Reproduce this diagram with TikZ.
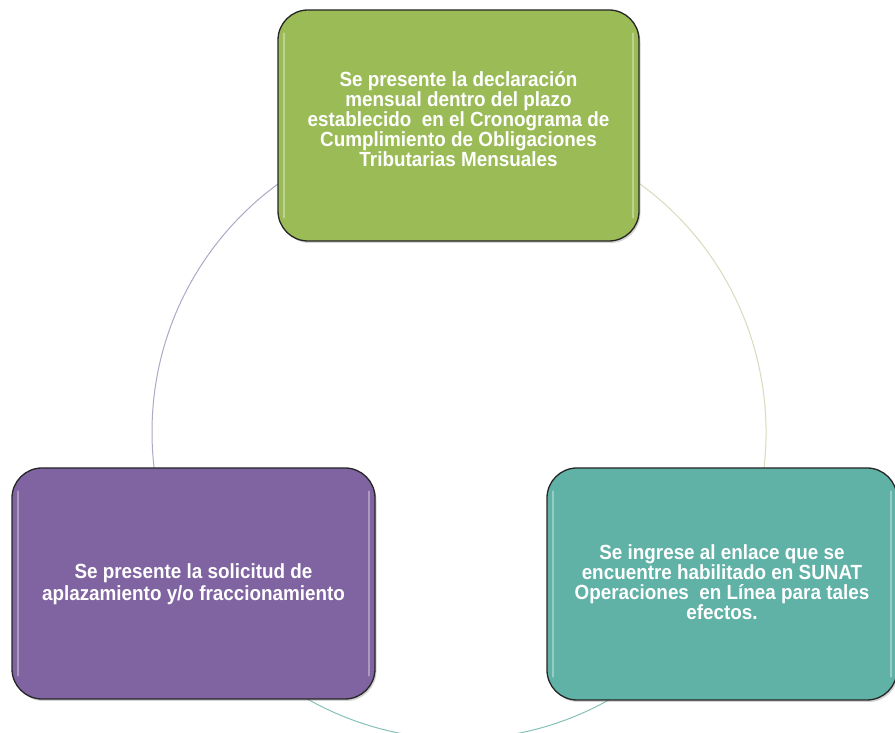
\documentclass[tikz,border=0pt]{standalone}
\usepackage{fontspec}
\setmainfont{Liberation Sans}
\newfontfamily\boxfont[FakeStretch=0.92]{Liberation Sans}
\usetikzlibrary{shadows,backgrounds}
\definecolor{boxgreen}{HTML}{9ABB56}
\definecolor{boxpurple}{HTML}{8063A1}
\definecolor{boxteal}{HTML}{60B1A6}
\definecolor{arcleft}{HTML}{ABA9C6}
\definecolor{arcright}{HTML}{D8DABB}
\definecolor{arcbottom}{HTML}{86C0B8}
\begin{document}
\begin{tikzpicture}[x=1pt,y=1pt,
  cyclebox/.style={draw=black!85, line width=1.3pt, rounded corners=30pt,
    inner sep=0pt, drop shadow={shadow xshift=1.5pt, shadow yshift=-2pt, opacity=0.35}},
  boxtext/.style={text=white, font=\boxfont\fontsize{20.5}{20}\selectfont\bfseries, align=center, inner sep=0pt},
  gloss/.style={white, opacity=0.35, line width=2pt, line cap=round},
  cyclearc/.style={line width=1pt}]
\useasboundingbox (0,0) rectangle (895,733);
\coordinate (c) at (459,301);
% circle arcs behind the boxes
\draw[cyclearc, arcleft] (c) ++(90:307) arc[start angle=90, end angle=210, radius=307];
\draw[cyclearc, arcbottom] (c) ++(210:307) arc[start angle=210, end angle=330, radius=307];
\draw[cyclearc, arcright] (c) ++(330:307) arc[start angle=330, end angle=450, radius=307];
% boxes
\node[cyclebox, fill=boxgreen, minimum width=361pt, minimum height=231pt] (top) at (458.5,607.5) {};
\node[cyclebox, fill=boxpurple, minimum width=363pt, minimum height=231pt] (left) at (193.5,149.5) {};
\node[cyclebox, fill=boxteal, minimum width=350pt, minimum height=232pt] (right) at (722,149) {};
% glossy highlights
\foreach \b in {top,left,right}{
  \draw[gloss] ([xshift=7pt,yshift=-24pt]\b.north west) -- ([xshift=7pt,yshift=24pt]\b.south west);
  \draw[gloss] ([xshift=-7pt,yshift=-24pt]\b.north east) -- ([xshift=-7pt,yshift=24pt]\b.south east);
}
% texts
\node[boxtext] (toptext) at ([yshift=6pt]top.center)
  {Se presente la declaración\\mensual dentro del plazo\\establecido \ en el Cronograma de\\Cumplimiento de Obligaciones\\Tributarias Mensuales};
\node[boxtext, font=\boxfont\fontsize{20.5}{21.7}\selectfont\bfseries] (lefttext) at ([yshift=-1pt]left.center)
  {Se presente la solicitud de\\aplazamiento y/o fraccionamiento};
\node[boxtext] (righttext) at ([yshift=2pt]right.center)
  {Se ingrese al enlace que se\\encuentre habilitado en SUNAT\\Operaciones \ en Línea para tales\\efectos.};
\end{tikzpicture}
\end{document}
